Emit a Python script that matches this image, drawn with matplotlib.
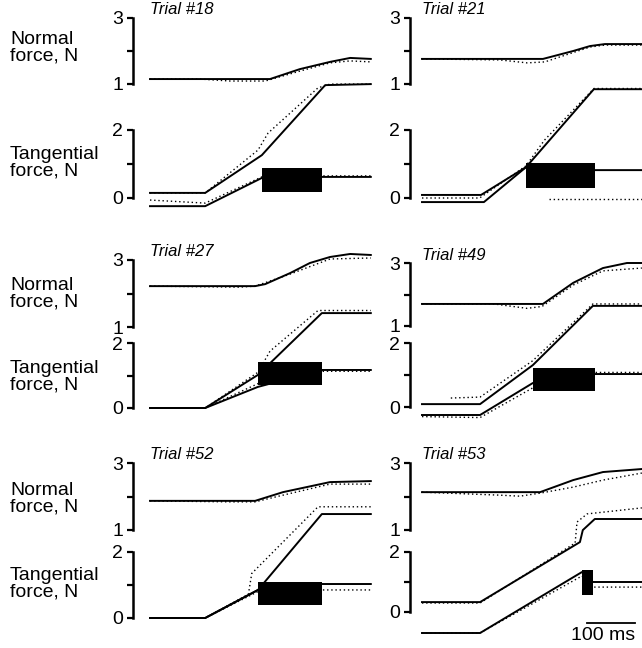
import matplotlib
matplotlib.use("Agg")
import matplotlib.pyplot as plt

plt.rcParams["font.family"] = ["Liberation Sans", "DejaVu Sans"]

# ---- data (time in ms from trace start, force in N) ----
trials = ["Trial #18", "Trial #21", "Trial #27", "Trial #49", "Trial #52", "Trial #53"]

normal_solid = [
    [(0, 1.15), (250, 1.15), (312, 1.45), (375, 1.67), (417, 1.79), (460, 1.76)],
    [(0, 1.76), (252, 1.76), (315, 2.0), (350, 2.15), (381, 2.21), (458, 2.21)],
    [(0, 2.22), (219, 2.22), (240, 2.28), (292, 2.61), (333, 2.91), (375, 3.09), (417, 3.18), (460, 3.15)],
    [(0, 1.70), (252, 1.70), (315, 2.37), (377, 2.84), (427, 3.0), (458, 3.0)],
    [(0, 1.87), (219, 1.87), (277, 2.13), (375, 2.43), (460, 2.46)],
    [(0, 2.13), (246, 2.13), (315, 2.49), (377, 2.73), (458, 2.82)],
]
normal_dotted = [
    [(0, 1.15), (104, 1.15), (167, 1.09), (240, 1.09), (312, 1.39), (375, 1.64), (417, 1.70), (460, 1.67)],
    [(0, 1.76), (162, 1.73), (219, 1.64), (256, 1.67), (287, 1.82), (350, 2.12), (381, 2.18), (458, 2.18)],
    [(0, 2.22), (187, 2.19), (219, 2.22), (292, 2.58), (375, 3.03), (460, 3.06)],
    [(0, 1.70), (150, 1.70), (219, 1.56), (250, 1.62), (315, 2.3), (377, 2.75), (458, 2.84)],
    [(0, 1.87), (167, 1.84), (219, 1.84), (277, 2.04), (375, 2.37), (460, 2.37)],
    [(0, 2.13), (162, 2.04), (204, 2.01), (246, 2.1), (315, 2.28), (377, 2.49), (458, 2.70)],
]
upper_solid = [
    [(0, 0.15), (115, 0.15), (233, 1.26), (365, 3.32), (460, 3.35)],
    [(0, 0.09), (123, 0.09), (217, 0.91), (358, 3.2), (458, 3.2)],
    [(0, 0.0), (115, 0.0), (225, 1.02), (358, 2.92), (460, 2.92)],
    [(0, 0.09), (121, 0.09), (231, 1.31), (356, 3.16), (458, 3.16)],
    [(0, 0.0), (115, 0.0), (225, 0.85), (358, 3.15), (460, 3.15)],
    [(0, 0.33), (121, 0.33), (329, 2.33), (335, 2.73), (360, 3.1), (458, 3.1)],
]
upper_dotted = [
    [(0, 0.15), (115, 0.15), (225, 1.41), (246, 1.91), (350, 3.24), (375, 3.35), (460, 3.35)],
    [(0, 0.0), (120, 0.0), (217, 0.95), (255, 1.7), (358, 3.22), (458, 3.22)],
    [(0, 0.0), (115, 0.0), (225, 1.1), (250, 1.75), (350, 3.0), (460, 3.0)],
    [(60, 0.28), (121, 0.31), (231, 1.45), (356, 3.22), (458, 3.22)],
    [(0, 0.0), (115, 0.0), (205, 0.72), (212, 1.35), (350, 3.37), (460, 3.37)],
    [(0, 0.3), (121, 0.3), (319, 2.3), (323, 3.0), (344, 3.27), (458, 3.47)],
]
lower_solid = [
    [(0, -0.24), (115, -0.24), (233, 0.59), (358, 0.62), (460, 0.62)],
    [(0, -0.12), (129, -0.12), (217, 0.91), (360, 0.82), (458, 0.82)],
    [(0, 0.0), (115, 0.0), (225, 0.65), (358, 1.17), (460, 1.17)],
    [(0, -0.25), (121, -0.25), (231, 0.75), (360, 1.03), (458, 1.03)],
    [(0, 0.0), (115, 0.0), (225, 0.85), (358, 1.03), (460, 1.03)],
    [(0, -0.7), (121, -0.7), (333, 1.33), (356, 1.0), (458, 1.0)],
]
lower_dotted = [
    [(0, -0.06), (115, -0.15), (233, 0.62), (358, 0.65), (460, 0.65)],
    [(265, -0.03), (458, -0.03)],
    [(0, 0.0), (115, 0.0), (225, 0.75), (358, 1.13), (460, 1.13)],
    [(0, -0.3), (121, -0.33), (231, 0.6), (360, 1.08), (458, 1.08)],
    [(0, 0.0), (115, 0.0), (225, 0.8), (358, 0.85), (460, 0.85)],
    [(0, -0.7), (121, -0.7), (333, 1.2), (356, 0.83), (458, 0.83)],
]
# slip-period blocks: (t_start, t_end, low, high)
slip_boxes = [
    (233, 358, 0.18, 0.88),
    (217, 360, 0.29, 1.03),
    (225, 358, 0.71, 1.42),
    (231, 360, 0.50, 1.22),
    (225, 358, 0.39, 1.09),
    (333, 356, 0.57, 1.40),
]
scale_bar_ms = 100

# ---- layout in pixels: spine x, trace start x, end x, normal 3/1 y, tangential 2/0 y ----
W, H = 642, 648
PX_PER_MS = 0.48
panels = [
    (133, 150, 371, 18, 84, 130, 198),
    (410, 422, 642, 18, 84, 130, 198),
    (133, 150, 371, 260, 327, 343, 408),
    (410, 422, 642, 263, 326, 343, 407),
    (133, 150, 371, 463, 530, 552, 618),
    (410, 422, 642, 463, 530, 552, 612),
]

fig = plt.figure(figsize=(W / 100, H / 100), dpi=100)
fig.patch.set_facecolor("white")


def make_axes(spine, x0, xend, ytop, ybot, ylim, ticks, labels):
    ax = fig.add_axes([spine / W, (H - ybot) / H, (xend - spine) / W, (ybot - ytop) / H])
    ax.set_xlim((spine - x0) / PX_PER_MS, (xend - x0) / PX_PER_MS)
    ax.set_ylim(*ylim)
    ax.patch.set_alpha(0)
    for s in ("top", "right", "bottom"):
        ax.spines[s].set_visible(False)
    ax.spines["left"].set_linewidth(1.8)
    ax.set_xticks([])
    ax.set_yticks(ticks)
    ax.set_yticklabels(labels)
    ax.tick_params(axis="y", direction="out", length=4, width=1.6, pad=3, labelsize=14)
    return ax


def trace(ax, pts, **kw):
    ax.plot([p[0] for p in pts], [p[1] for p in pts], color="black", clip_on=False, **kw)


for i, (spine, x0, xend, n3, n1, t2, t0) in enumerate(panels):
    axn = make_axes(spine, x0, xend, n3, n1, (1, 3), [1, 2, 3], ["1", "", "3"])
    axt = make_axes(spine, x0, xend, t2, t0, (0, 2), [0, 1, 2], ["0", "", "2"])

    trace(axn, normal_dotted[i], lw=1.0, ls=(0, (1, 2)))
    trace(axn, normal_solid[i], lw=1.4)
    trace(axt, upper_dotted[i], lw=1.0, ls=(0, (1, 2)))
    trace(axt, lower_dotted[i], lw=1.0, ls=(0, (1, 2)))
    trace(axt, upper_solid[i], lw=1.4)
    trace(axt, lower_solid[i], lw=1.4)

    b0, b1, lo, hi = slip_boxes[i]
    axt.bar(b0, hi - lo, bottom=lo, width=b1 - b0, align="edge", color="black", clip_on=False)

    axn.text(0, 3.25, trials[i], style="italic", fontsize=12, ha="left", va="center")

# scale bar in the last panel
axt.plot([344, 344 + scale_bar_ms], [-0.37, -0.37], color="black", lw=1.3, clip_on=False)
axt.text(344 + scale_bar_ms, -0.5, "100 ms", fontsize=14, ha="right", va="top")

# row labels
for yn, yt in [(48, 163), (294, 377), (499, 584)]:
    fig.text(10 / W, 1 - yn / H, "Normal\nforce, N", fontsize=14, ha="left", va="center", linespacing=0.95)
    fig.text(10 / W, 1 - yt / H, "Tangential\nforce, N", fontsize=14, ha="left", va="center", linespacing=0.95)

fig.savefig("out.png", dpi=100)
